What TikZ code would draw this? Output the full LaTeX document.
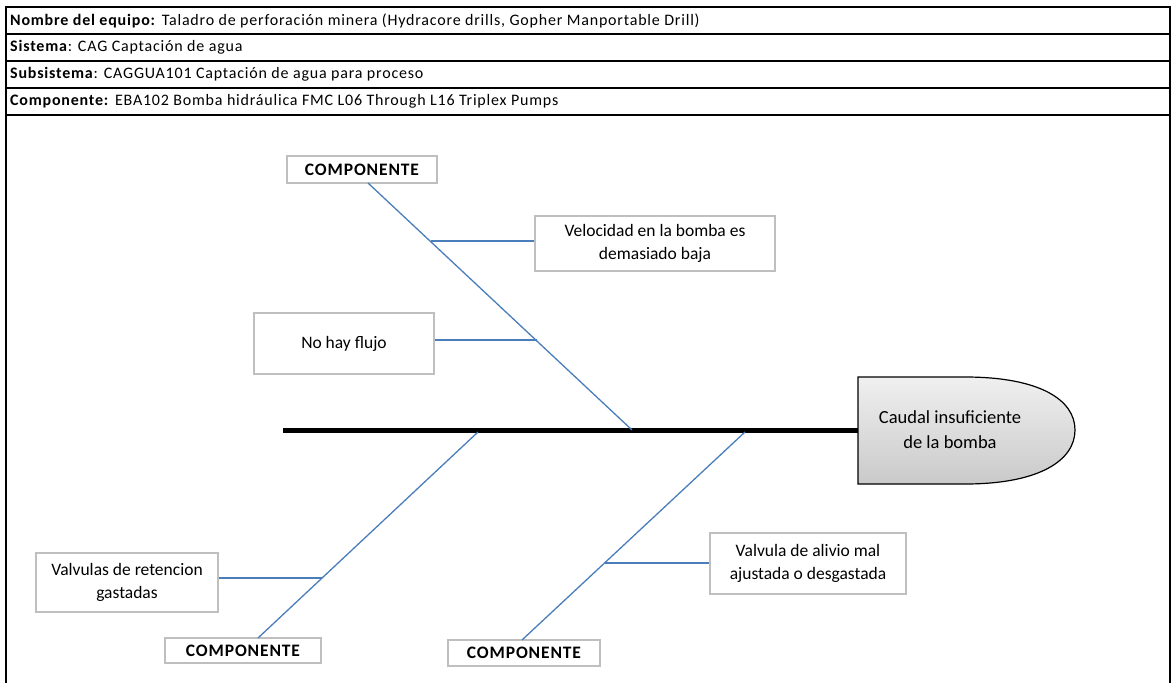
\documentclass[tikz,border=0pt]{standalone}
\usepackage{fontspec}
\setmainfont{Carlito}
\definecolor{bonec}{HTML}{4A7EBB}
\definecolor{boxc}{HTML}{BFBFBF}
\begin{document}
\begin{tikzpicture}[x=1pt,y=-1pt,
  hdr/.style={anchor=west,inner sep=0pt,font=\fontsize{16}{18}\selectfont\addfontfeatures{LetterSpace=5}},
  cbox/.style={draw=boxc,line width=1.6pt,fill=white,align=center,inner sep=0pt,font=\fontsize{17.5}{23}\selectfont},
  comp/.style={draw=boxc,line width=1.6pt,fill=white,inner sep=0pt,font=\fontsize{17.5}{20}\selectfont\bfseries\addfontfeatures{LetterSpace=5}},
  bone/.style={draw=bonec,line width=1.3pt},
  spine/.style={draw=black,line width=5pt}]
\useasboundingbox (0,0) rectangle (1171,683);
% frame and header
\draw[line width=1.6pt] (6,700) -- (6,7) -- (1170,7) -- (1170,700);
\foreach \yy in {34,61,88,115} \draw[line width=1.8pt] (6,\yy) -- (1170,\yy);
\node[hdr] (h1) at (10,20.5) {\textbf{Nombre del equipo:} Taladro de perforación minera (Hydracore drills, Gopher Manportable Drill)};
\node[hdr] (h2) at (10,47.5) {\textbf{Sistema}: CAG Captación de agua};
\node[hdr] (h3) at (10,74.5) {\textbf{Subsistema}: CAGGUA101 Captación de agua para proceso};
\node[hdr] (h4) at (10,101.5) {\textbf{Componente:} EBA102 Bomba hidráulica FMC L06 Through L16 Triplex Pumps};
% spine
\coordinate (sp0) at (283,430);
\coordinate (sp1) at (858,430);
\draw[spine] (sp0) -- (sp1);
% head
\path[draw=black,line width=1.2pt,top color=gray!12,bottom color=gray!42]
  (858,377) -- (965,377) .. controls (1040,377) and (1075,400) .. (1075,430)
  .. controls (1075,460) and (1040,484) .. (965,484) -- (858,484) -- cycle;
\node[align=center,font=\fontsize{18.5}{25}\selectfont] (head) at (950,430) {Caudal insuficiente\\de la bomba};
% spine joints
\coordinate (j1) at (632,430);
\coordinate (j2) at (478,432);
\coordinate (j3) at (745,432);
% component boxes
\node[comp,minimum width=150pt,minimum height=27pt] (c1) at (362,169.5) {COMPONENTE};
\node[comp,minimum width=156pt,minimum height=25pt] (c2) at (243,650.5) {COMPONENTE};
\node[comp,minimum width=152pt,minimum height=26pt] (c3) at (524,653) {COMPONENTE};
% bones
\coordinate (c1s) at (368,183);
\coordinate (c2n) at (258,638);
\coordinate (c3n) at (522,640);
\draw[bone] (c1s) -- (j1);
\draw[bone] (c2n) -- (j2);
\draw[bone] (c3n) -- (j3);
% cause boxes
\node[cbox,minimum width=240pt,minimum height=55pt] (b1) at (655,243.5) {Velocidad en la bomba es\\demasiado baja};
\node[cbox,minimum width=180pt,minimum height=61pt] (b2) at (344,343.5) {No hay flujo};
\node[cbox,minimum width=182pt,minimum height=59pt] (b3) at (127,582.5) {Valvulas de retencion\\gastadas};
\node[cbox,minimum width=196pt,minimum height=61pt] (b4) at (808,563.5) {Valvula de alivio mal\\ajustada o desgastada};
% branch joints on bones
\coordinate (k1) at (431,241);
\coordinate (k2) at (537,340);
\coordinate (k3) at (322,578);
\coordinate (k4) at (605,563);
\draw[bone] (k1) -- (b1.west |- k1);
\draw[bone] (k2) -- (b2.east |- k2);
\draw[bone] (k3) -- (b3.east |- k3);
\draw[bone] (k4) -- (b4.west |- k4);
\end{tikzpicture}
\end{document}
